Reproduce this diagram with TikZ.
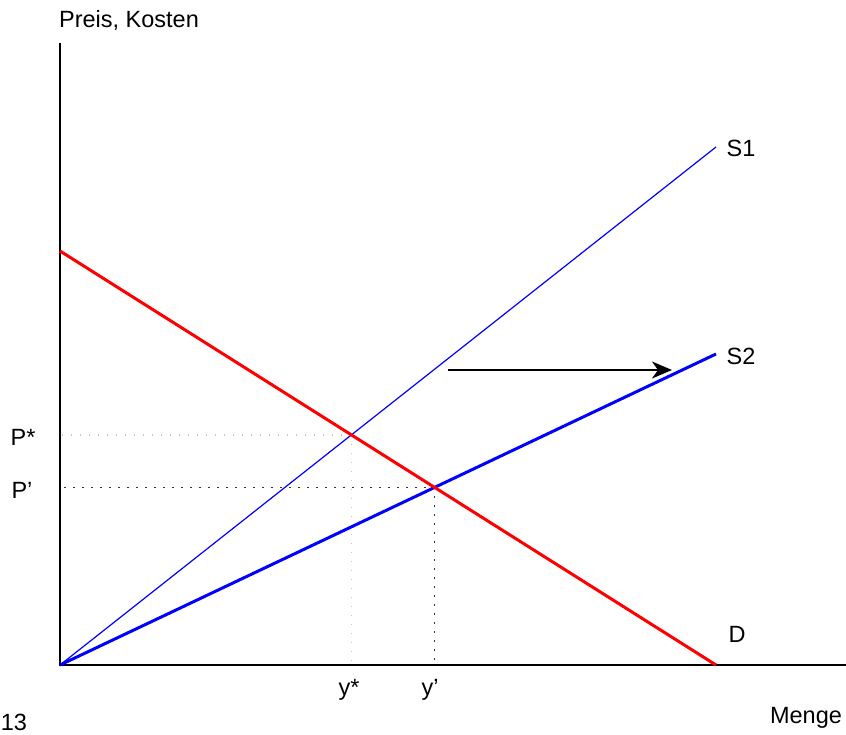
\documentclass[tikz,border=0pt]{standalone}
\usepackage{fontspec}
\setmainfont{Liberation Sans}
\usetikzlibrary{arrows.meta}
\begin{document}
\begin{tikzpicture}[x=1pt,y=-1pt,font=\fontsize{23.5}{27}\selectfont]
\useasboundingbox (0,0) rectangle (846,735);
\coordinate (origin) at (60,665);
\coordinate (ytop) at (60,43);
\coordinate (xend) at (846,665);
\coordinate (s1end) at (716,147);
\coordinate (s2end) at (716,354);
\coordinate (dtop) at (60,251);
\coordinate (dend) at (716,665);
\coordinate (eqold) at (intersection of origin--s1end and dtop--dend);
\coordinate (eqnew) at (intersection of origin--s2end and dtop--dend);
\coordinate (shiftstart) at (448,370);
\coordinate (shiftend) at (672,370);
% dotted guides
\draw[gray!45, line width=1.5pt, dash pattern=on 1.5pt off 7.5pt] (eqold) -- (eqold -| origin);
\draw[gray!45, line width=1.5pt, dash pattern=on 1.5pt off 7.5pt] (eqold) -- (eqold |- origin);
\draw[black!80, line width=1.5pt, dash pattern=on 1.5pt off 7.5pt] (eqnew) -- (eqnew -| origin);
\draw[black!80, line width=1.5pt, dash pattern=on 1.5pt off 7.5pt] (eqnew) -- (eqnew |- origin);
% axes
\draw[line width=2pt] (ytop) -- (origin) -- (xend);
% curves
\draw[blue, line width=1.2pt] (origin) -- (s1end);
\draw[blue, line width=3pt] (origin) -- (s2end);
\draw[red, line width=3pt] (dtop) -- (dend);
\draw[-{Stealth[length=20pt,width=17pt,inset=6pt]}, line width=1.5pt] (shiftstart) -- (shiftend);
% labels
\node (axisy) at (129,20) {Preis, Kosten};
\node (axisx) at (806,718) {Menge};
\node (s1) at (741,148) {S1};
\node (s2) at (741,356) {S2};
\node (d) at (737,634) {D};
\node (pstar) at (23,437) {P*};
\node (pprime) at (22,490) {P'};
\node (ystar) at (349,690) {y*};
\node (yprime) at (430,690) {y'};
\node (pagenum) at (14,722) {13};
\end{tikzpicture}
\end{document}
